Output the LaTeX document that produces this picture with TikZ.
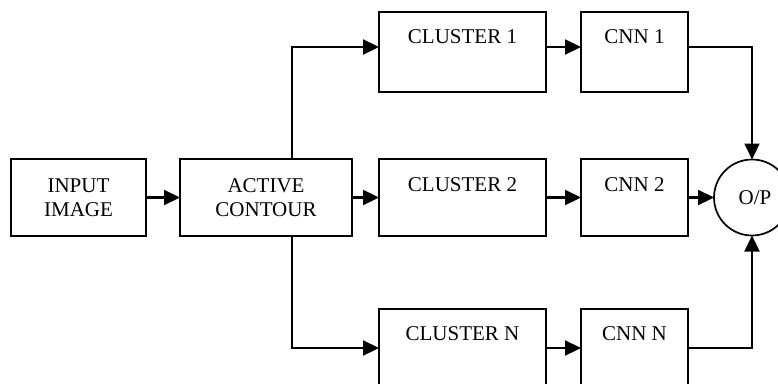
\documentclass[tikz,border=0pt]{standalone}
\usepackage{fontspec}
\setmainfont{Liberation Serif}
\usetikzlibrary{arrows.meta}
\begin{document}
\begin{tikzpicture}[x=1pt,y=-1pt,
  box/.style={draw,line width=1.7pt,inner sep=0pt,outer sep=0pt},
  conn/.style={line width=2.2pt,-{Triangle[length=16pt,width=15pt]}},
  lab/.style={anchor=base,inner sep=0pt},
  font=\fontsize{21}{25}\selectfont]
\useasboundingbox (0,0) rectangle (778,383);
\clip (0,0) rectangle (778,383);
% boxes
\node[box,minimum width=135pt,minimum height=77pt,align=center] (in) at (78.5,197.5) {INPUT\\[-1pt]IMAGE};
\node[box,minimum width=172pt,minimum height=77pt,align=center] (ac) at (266,197.5) {ACTIVE\\[-1pt]CONTOUR};
\node[box,minimum width=167pt,minimum height=80pt] (c1) at (462.5,52) {};
\node[box,minimum width=167pt,minimum height=77pt] (c2) at (462.5,197.5) {};
\node[box,minimum width=167pt,minimum height=78pt] (cN) at (462.5,348) {};
\node[box,minimum width=107pt,minimum height=80pt] (n1) at (634.5,52) {};
\node[box,minimum width=107pt,minimum height=77pt] (n2) at (634.5,197.5) {};
\node[box,minimum width=107pt,minimum height=78pt] (nN) at (634.5,348) {};
\node[box,circle,minimum size=76pt] (op) at (752,197.5) {};
% labels
\node[lab] (c1t) at ([yshift=-31pt]c1.north) {CLUSTER 1};
\node[lab] (c2t) at ([yshift=-32pt]c2.north) {CLUSTER 2};
\node[lab] (cNt) at ([yshift=-31pt]cN.north) {CLUSTER N};
\node[lab] (n1t) at ([yshift=-31pt]n1.north) {CNN 1};
\node[lab] (n2t) at ([yshift=-32pt]n2.north) {CNN 2};
\node[lab] (nNt) at ([yshift=-31pt]nN.north) {CNN N};
\node (opt) at ([xshift=3pt]op.center) {O/P};
% connectors
\coordinate (t) at (292,0);
\draw[conn] (in) -- (ac);
\draw[conn] (ac) -- (c2);
\draw[conn] (ac.north -| t) |- ([yshift=5pt]c1.west);
\draw[conn] (ac.south -| t) |- (cN.west);
\draw[conn] ([yshift=5pt]c1.east) -- ([yshift=5pt]n1.west);
\draw[conn] (c2) -- (n2);
\draw[conn] (cN) -- (nN);
\draw[conn] ([yshift=5pt]n1.east) -| (op.north);
\draw[conn] (n2) -- (op);
\draw[conn] (nN.east) -| (op.south);
\end{tikzpicture}
\end{document}
